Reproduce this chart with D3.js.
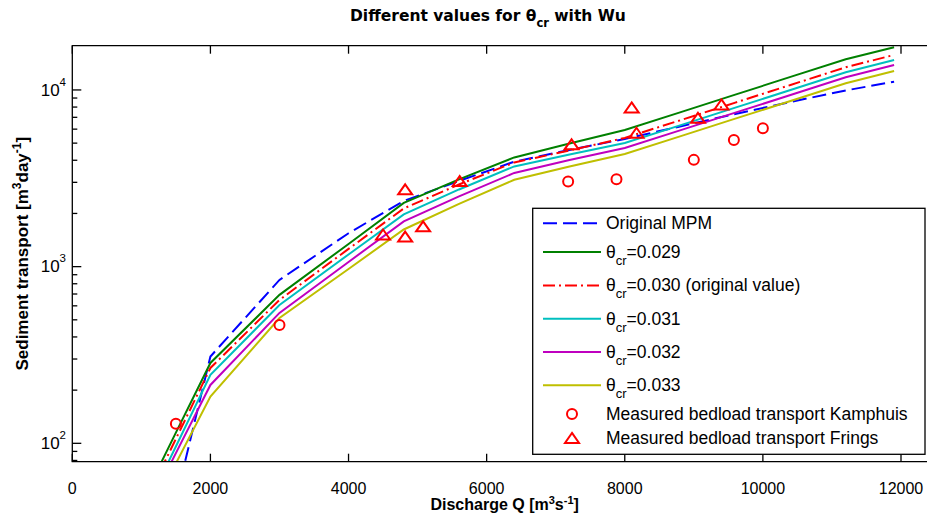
<!DOCTYPE html>
<html><head><meta charset="utf-8">
<script src="https://cdn.jsdelivr.net/npm/d3@7"></script>
<style>body{margin:0;background:#fff;} svg{display:block}</style>
</head><body>
<svg id="c" width="927" height="515"></svg>
<script>
// ---- data ----
const discharge   = [1000,1500,2000,3000,4000,4800,5600,6400,7200,8000,8800,9600,10400,11200,11900];
const originalMPM = [null,48,310,841,1545,2355,3055,3927,4575,5281,6216,7313,8553,9935,11140];
const theta029    = [46,115,285,692,1344,2294,3115,4150,4980,5940,7470,9405,11850,14920,17450];
const theta030    = [42,106,267,648,1260,2135,2918,3888,4546,5351,6730,8476,10670,13440,15780];
const theta031    = [38,96,244,607,1172,1974,2734,3691,4315,5013,6304,7940,10000,12590,14790];
const theta032    = [36,88,214,547,1063,1802,2496,3391,4017,4697,5907,7437,9370,11800,13850];
const theta033    = [32,77,184,512,970,1623,2264,3103,3691,4343,5463,6879,8663,10910,12810];
const kamphuisQ = [1500,3000,7180,7880,9000,9580,10000];
const kamphuisS = [129,468,3030,3120,4020,5210,6070];
const fringsQ = [4500,4820,4820,5080,5610,7230,8100,8170,9060,9400];
const fringsS = [1510,1470,2720,1680,3030,4890,7910,5690,6910,8230];
const xTickValues = [0,2000,4000,6000,8000,10000,12000];
const yMajorTicks = [100,1000,10000];
const thetaLabels = ["0.029","0.030 (original value)","0.031","0.032","0.033"];

// ---- layout ----
const svg = d3.select("#c");
const L = 72.3, T = 45.7, B = 461.7, R = 940;
const x = d3.scaleLinear().domain([0,12000]).range([L, 901]);
const y = d3.scaleLog().domain([78.7,17800]).range([B, T]);
const FONT = "'Liberation Sans', Arial, sans-serif";

svg.append("defs").append("clipPath").attr("id","clip")
  .append("rect").attr("x",L).attr("y",T).attr("width",R-L).attr("height",B-T);

// series
const series = [
  {vals: originalMPM, color:"#0000ff", dash:"14,6", label:"Original MPM"},
  {vals: theta029, color:"#008000", dash:null, theta: thetaLabels[0]},
  {vals: theta030, color:"#ff0000", dash:"12,4,2,4", theta: thetaLabels[1]},
  {vals: theta031, color:"#00bfbf", dash:null, theta: thetaLabels[2]},
  {vals: theta032, color:"#bf00bf", dash:null, theta: thetaLabels[3]},
  {vals: theta033, color:"#bfbf00", dash:null, theta: thetaLabels[4]},
];
const line = d3.line().defined(d => d[1] != null).x(d => x(d[0])).y(d => y(d[1]));
const plot = svg.append("g").attr("clip-path","url(#clip)");
// draw order: bottom to top similar to MATLAB (first drawn under)
series.forEach(s => {
  plot.append("path")
    .attr("d", line(discharge.map((q,i)=>[q, s.vals[i]])))
    .attr("fill","none").attr("stroke", s.color).attr("stroke-width",2)
    .attr("stroke-dasharray", s.dash);
});
const triPath = "M0,-5.5L7,4.5L-7,4.5Z";
plot.selectAll("circle.k").data(kamphuisQ).join("circle")
  .attr("cx",(d)=>x(d)).attr("cy",(d,i)=>y(kamphuisS[i])).attr("r",5)
  .attr("fill","none").attr("stroke","#ff0000").attr("stroke-width",2);
plot.selectAll("path.f").data(fringsQ).join("path")
  .attr("d",triPath)
  .attr("transform",(d,i)=>`translate(${x(d)},${y(fringsS[i])})`)
  .attr("fill","none").attr("stroke","#ff0000").attr("stroke-width",2);

// axes box
const ax = svg.append("g").attr("stroke","#000").attr("stroke-width",1.3);
ax.append("path").attr("d",`M${R},${T}H${L}V${B}H${R}`).attr("fill","none");
// x ticks (bottom + top, inward)
xTickValues.forEach(v=>{
  ax.append("line").attr("x1",x(v)).attr("x2",x(v)).attr("y1",B).attr("y2",B-8);
  ax.append("line").attr("x1",x(v)).attr("x2",x(v)).attr("y1",T).attr("y2",T+8);
});
// y ticks (left inward, major & minor)
y.ticks().forEach(v=>{
  const major = yMajorTicks.includes(v);
  ax.append("line").attr("x1",L).attr("x2",L+(major?9:5)).attr("y1",y(v)).attr("y2",y(v));
});

// tick labels
svg.append("g").selectAll("text").data(xTickValues).join("text")
  .attr("x",d=>x(d)).attr("y",494).attr("text-anchor","middle")
  .attr("font-family",FONT).attr("font-size",16).text(d=>d);
const yl = svg.append("g").selectAll("text").data(yMajorTicks).join("text")
  .attr("x",66).attr("y",d=>y(d)+5.7).attr("text-anchor","end")
  .attr("font-family",FONT).attr("font-size",17).attr("fill","#000");
yl.append("tspan").text("10");
yl.append("tspan").attr("dy",-10).attr("font-size",11.5).text(d=>Math.round(Math.log10(d)));

// title
const title = svg.append("text").attr("x",350).attr("y",20.7)
  .attr("font-family","'DejaVu Sans', sans-serif").attr("font-weight","bold").attr("font-size",15.5);
title.append("tspan").text("Different values for θ");
title.append("tspan").attr("dy",6).attr("font-size",11.5).text("cr");
title.append("tspan").attr("dy",-6).text(" with Wu");

// x label
const xl = svg.append("text").attr("x",(L+901+40)/2 - 2).attr("y",510).attr("text-anchor","middle")
  .attr("font-family",FONT).attr("font-weight","bold").attr("font-size",16);
xl.append("tspan").text("Discharge Q [m");
xl.append("tspan").attr("dy",-6).attr("font-size",11).text("3");
xl.append("tspan").attr("dy",6).text("s");
xl.append("tspan").attr("dy",-6).attr("font-size",11).text("-1");
xl.append("tspan").attr("dy",6).text("]");

// y label
const ylab = svg.append("text").attr("transform",`translate(28,${(T+B)/2}) rotate(-90)`)
  .attr("text-anchor","middle").attr("font-family",FONT).attr("font-weight","bold").attr("font-size",17);
ylab.append("tspan").text("Sediment transport [m");
ylab.append("tspan").attr("dy",-7).attr("font-size",12).text("3");
ylab.append("tspan").attr("dy",7).text("day");
ylab.append("tspan").attr("dy",-7).attr("font-size",12).text("-1");
ylab.append("tspan").attr("dy",7).text("]");

// legend
const LG = {x:532.7, y:208.3, w:392.3, h:246};
const lg = svg.append("g");
lg.append("rect").attr("x",LG.x).attr("y",LG.y).attr("width",LG.w).attr("height",LG.h)
  .attr("fill","#fff").attr("stroke","#000").attr("stroke-width",1.3);
const entries = [
  ...series.map(s=>({type:"line", s})),
  {type:"circle", label:"Measured bedload transport Kamphuis"},
  {type:"tri", label:"Measured bedload transport Frings"},
];
let cy = LG.y + 2.85;
entries.forEach(e=>{
  const h = (e.s && e.s.theta) ? 33.3 : 24.3;
  const yc = cy + h/2; cy += h;
  if (e.type==="line") {
    lg.append("line").attr("x1",543).attr("x2",601).attr("y1",yc).attr("y2",yc)
      .attr("stroke",e.s.color).attr("stroke-width",2).attr("stroke-dasharray",e.s.dash);
  } else if (e.type==="circle") {
    lg.append("circle").attr("cx",572).attr("cy",yc).attr("r",5)
      .attr("fill","none").attr("stroke","#ff0000").attr("stroke-width",2);
  } else {
    lg.append("path").attr("d",triPath).attr("transform",`translate(572,${yc})`)
      .attr("fill","none").attr("stroke","#ff0000").attr("stroke-width",2);
  }
  const t = lg.append("text").attr("x",606).attr("y",yc+5.8)
    .attr("font-family",FONT).attr("font-size",17.5);
  if (e.s && e.s.theta) {
    t.append("tspan").text("θ");
    t.append("tspan").attr("dy",7).attr("font-size",13).text("cr");
    t.append("tspan").attr("dy",-7).text("=" + e.s.theta);
  } else {
    t.text(e.s ? e.s.label : e.label);
  }
});
</script>
</body></html>
